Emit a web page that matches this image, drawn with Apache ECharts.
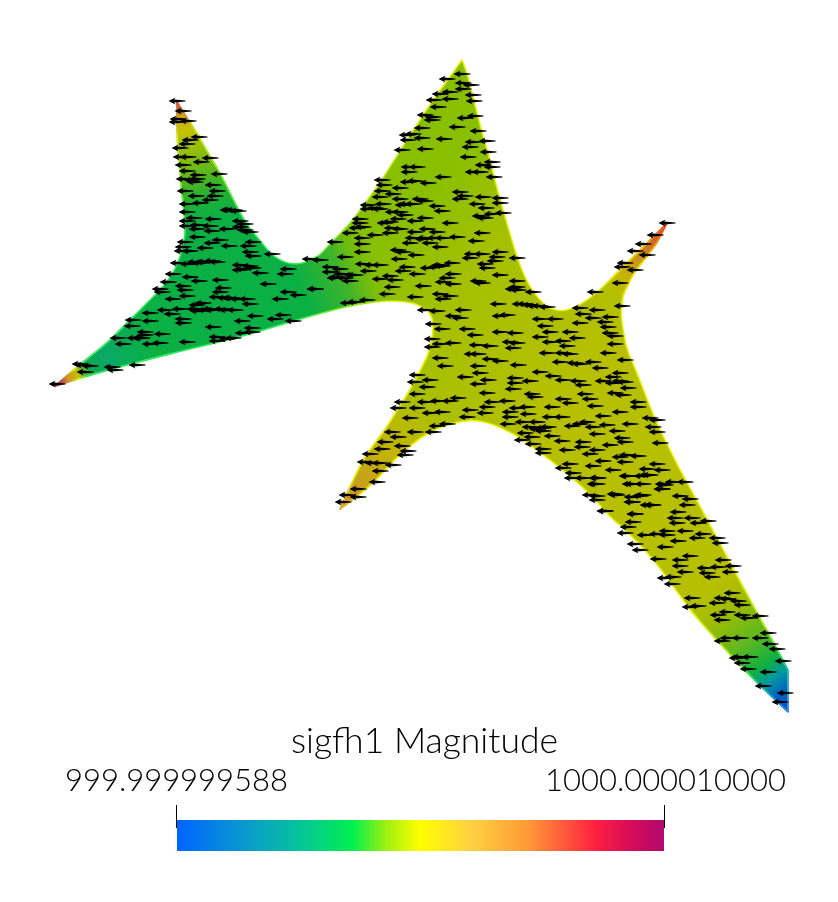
<!DOCTYPE html>
<html><head><meta charset="utf-8">
<style>html,body{margin:0;padding:0;background:#fff}#c{width:838px;height:902px}</style>
<script src="https://cdn.jsdelivr.net/npm/echarts@6/dist/echarts.min.js"></script>
</head><body><div id="c"></div>
<script>
const titleText = 'sigfh1 Magnitude';
const rangeLabels = ['999.999999588', '1000.000010000'];
const outline = [[55,386],[70,373],[83,362],[107,343],[120,330],[133,317],[146,304],[157,293],[166,283],[173,273],[179,260],[183,247],[185,235],[185,223],[184,212],[183,203],[181,185],[180,170],[178,150],[177,133],[177,102],
[187,118],[197,133],[208,153],[220,173],[230,193],[240,213],[248,226],[257,237],[270,253],[278,259],[287,263],[295,264],[303,263],[312,259],[320,255],[327,247],[340,234],[353,220],[366,202],[380,183],[393,162],[407,140],[420,120],[433,100],[447,81],[462,60],
[467,73],[472,93],[477,113],[483,136],[490,160],[496,185],[503,210],[510,234],[517,257],[523,273],[530,287],[538,298],[547,307],[555,310],[563,311],[573,308],[583,303],[595,294],[607,283],[617,273],[627,263],[638,252],[650,240],[667,223],
[657,243],[648,255],[640,265],[632,276],[627,287],[623,295],[622,303],[621,313],[622,323],[624,335],[627,350],[637,373],[650,407],[660,430],[670,450],[680,470],[702,510],[727,557],[750,600],[776,647],[788,670],[788,712],
[757,683],[723,647],[690,610],[657,563],[623,527],[613,520],[593,497],[578,483],[563,470],[550,460],[537,450],[523,440],[510,432],[490,423],[473,420],[457,422],[437,428],[417,440],[397,457],[385,470],[373,483],[355,498],[340,509],
[350,487],[363,460],[375,443],[387,427],[398,409],[410,390],[419,373],[427,357],[431,345],[433,333],[433,320],[430,314],[427,310],[420,306],[413,303],[400,301],[383,301],[367,303],[350,306],[333,310],[300,319],[270,328],[240,337],[173,353],[107,370]];
const tips = [[55,386],[177,102],[462,60],[667,223],[788,670],[788,712],[340,509]];
const leftStarEnds = [[400,301],[366,202]];
const armTopLeftEnds = [[185,235],[248,226]];
const tipLeftEnds = [[173,353],[133,317]];
const armRightEnds = [[607,283],[622,303]];
const armLowerEnds = [[473,420],[433,333]];
const armLowerRightEnds = [[727,557],[690,610]];
const colorBarStops = [[0,'#0064ff'],[0.13,'#0a96d2'],[0.25,'#05c39b'],[0.36,'#00f050'],[0.43,'#a0f010'],[0.5,'#ffff00'],[0.6,'#ffd240'],[0.72,'#ff9a38'],[0.86,'#ff2040'],[0.93,'#d80c58'],[1,'#b00a6e']];
const arrowsLeft = [[177,101],[183,111],[178,119],[188,121],[177,122],[199,137],[190,140],[187,144],[180,148],[188,157],[181,157],[210,158],[201,162],[183,165],[187,171],[219,174],[184,179],[197,179],[195,182],[213,185],[185,191],[217,191],[215,196],[196,196],[210,200],[200,203],[187,204],[187,212],[230,210],[238,211],[194,218],[213,219],[187,221],[240,221],[245,224],[187,226],[198,225],[210,226],[227,229],[240,227],[197,229],[212,231],[250,232],[197,237],[220,240],[212,243],[253,242],[248,246],[229,246],[185,242],[183,247],[205,248],[190,251],[182,251],[250,252],[253,256],[272,254],[217,262],[203,262],[178,263],[188,264],[240,265],[253,268],[243,269],[288,269],[285,274],[260,273],[173,274],[190,277],[168,282],[199,281],[220,280],[268,284],[183,286],[223,288],[160,289],[162,292],[185,290],[288,292],[298,295],[315,289],[220,292],[187,296],[173,299],[217,297],[230,298],[247,299],[280,299],[197,305],[250,304],[203,303],[180,309],[165,310],[210,309],[227,310],[235,310],[150,313],[172,314],[198,311],[255,316],[283,315],[275,319],[183,319],[133,320],[150,321],[242,321],[183,323],[132,326],[213,327],[252,328],[252,332],[145,332],[162,334],[140,338],[118,338],[217,337],[233,338],[243,333],[123,344],[150,344],[160,343],[187,342],[217,341],[227,339],[80,364],[90,366],[85,372],[112,367],[137,365],[115,370],[83,365],[57,384],[293,321]];
const arrowsPeak = [[462,74],[447,79],[463,83],[471,85],[463,89],[450,92],[440,94],[473,95],[450,99],[434,100],[474,101],[438,107],[425,115],[433,117],[432,120],[465,118],[475,116],[457,127],[478,131],[422,128],[413,134],[407,135],[422,138],[408,140],[444,139],[473,142],[487,141],[470,147],[402,150],[425,149],[488,152],[468,157],[492,162],[492,167],[483,165],[480,172],[473,172],[409,167],[417,167],[409,172],[443,177],[494,177],[382,180],[415,181],[428,183],[408,182],[400,188],[384,185],[382,191],[393,194],[460,192],[380,197],[400,199],[420,199],[425,201],[465,196],[460,199],[483,197],[500,198],[500,203],[383,204],[368,205],[403,205],[413,204],[437,206],[477,204],[486,208],[400,212],[442,211],[368,209],[380,209],[405,215],[492,214],[503,213],[480,216],[485,218],[425,218],[415,221],[398,219],[390,222],[360,219],[450,223],[360,223],[385,223],[363,227],[357,228],[392,228],[400,229],[427,229],[437,232],[390,233],[415,232],[350,233],[482,233],[375,235],[362,238],[413,238],[423,239],[443,238],[457,237],[476,241],[335,242],[410,243],[430,243],[362,244],[440,247],[398,250],[362,252],[416,255],[403,252],[482,254],[500,252],[472,254],[497,257],[345,257],[399,259],[310,259],[320,260],[517,258],[470,258],[363,264],[372,265],[380,265],[452,263],[495,261],[485,264],[407,267],[428,268],[442,266],[330,267],[340,269],[487,268],[330,272],[403,271],[368,271],[417,274],[342,274],[352,275],[390,276],[453,274],[500,275],[337,277],[380,279],[395,280],[447,278],[443,282],[517,281],[478,281],[350,281],[453,284],[482,283],[517,287],[513,289],[392,287],[423,286],[533,292],[595,292],[387,294],[440,294],[450,296],[415,297],[443,299],[367,300],[348,303],[355,302],[315,289],[620,283],[667,223],[655,235],[643,244],[635,251],[647,255],[625,263],[622,267],[635,270],[622,306],[520,304],[530,305],[547,307],[498,304],[463,310],[580,308],[597,310],[437,311],[425,310],[460,318],[453,316],[500,316],[507,315],[540,319],[555,319],[583,314],[593,318],[610,317],[580,323],[605,322],[545,326],[433,324],[442,329],[467,329],[608,327],[550,332],[570,332],[500,332],[515,333],[610,333],[577,338],[475,335],[540,337],[432,339],[615,336],[550,342],[563,341],[615,344],[510,342],[440,344],[453,343],[477,345],[490,346],[517,343],[567,346],[513,348],[432,347]];
const arrowsLower = [[547,353],[563,353],[570,354],[478,354],[472,354],[440,358],[560,362],[593,362],[490,359],[500,361],[625,360],[608,353],[445,366],[518,365],[478,366],[600,368],[540,372],[620,373],[417,375],[480,373],[613,377],[465,377],[430,380],[415,382],[553,376],[515,378],[488,380],[563,380],[578,381],[603,381],[613,383],[583,385],[427,387],[478,384],[515,383],[530,381],[628,388],[417,394],[487,393],[513,389],[532,394],[585,394],[615,393],[535,397],[623,395],[563,399],[590,399],[458,398],[402,402],[425,402],[438,401],[450,401],[507,401],[638,402],[570,403],[492,402],[638,407],[595,406],[398,408],[417,408],[487,407],[527,407],[552,407],[517,408],[470,410],[430,413],[442,412],[485,413],[528,414],[510,412],[467,417],[510,417],[550,417],[562,417],[410,418],[603,416],[620,412],[650,418],[587,422],[537,422],[523,422],[657,420],[508,424],[580,424],[607,425],[630,424],[437,426],[447,424],[530,427],[543,428],[593,427],[653,427],[415,432],[433,432],[392,432],[543,431],[617,431],[597,434],[525,433],[532,437],[657,432],[552,436],[398,437],[622,438],[625,442],[385,442],[562,441],[583,442],[522,440],[660,443],[533,444],[582,447],[610,445],[402,446],[382,449],[543,449],[567,450],[597,450],[408,451],[370,454],[405,455],[543,453],[590,454],[627,455],[638,456],[620,457],[365,462],[373,463],[380,463],[393,465],[603,461],[625,462],[657,464],[570,464],[593,466],[380,471],[613,470],[647,469],[563,468],[662,470],[627,476],[647,475],[573,473],[598,478],[583,478],[572,478],[377,482],[597,484],[630,484],[643,484],[663,484],[358,489],[662,489],[347,495],[358,497],[590,495],[617,495],[640,496],[343,502],[597,500],[632,502],[652,505],[605,511],[635,514]];
const arrowsRight = [[685,482],[673,482],[597,478],[628,476],[650,475],[642,476],[665,485],[633,484],[595,484],[662,489],[680,496],[690,499],[597,496],[615,494],[632,497],[643,495],[687,505],[632,502],[653,505],[648,505],[678,512],[635,514],[605,511],[675,518],[692,518],[633,522],[677,523],[708,521],[698,523],[628,527],[667,531],[685,531],[625,533],[645,535],[657,534],[667,535],[703,534],[697,538],[717,538],[678,541],[635,544],[720,543],[665,547],[640,550],[690,556],[658,559],[680,560],[723,560],[680,566],[733,566],[705,568],[718,567],[685,572],[730,572],[707,573],[712,577],[673,577],[665,578],[672,584],[692,598],[732,593],[722,598],[728,599],[738,601],[717,603],[698,606],[690,607],[742,605],[727,612],[718,615],[722,620],[742,615],[760,616],[748,618],[768,633],[760,638],[728,638],[740,638],[722,641],[770,644],[777,649],[740,657],[750,657],[737,658],[742,663],[748,669],[768,672],[783,661],[763,686],[785,693],[780,702]];
const arrowsDense = [[205,262],[212,261],[195,262],[200,263],[240,270],[250,266],[232,298],[238,299],[225,298],[213,310],[205,310],[222,309],[195,309],[135,338],[145,335],[142,338],[245,230],[228,210],[234,210],[198,175],[192,180],[440,265],[436,267],[518,290],[525,304],[535,306],[540,306],[335,278],[345,278],[355,275],[407,204],[393,212],[375,208],[425,238],[435,238],[575,363],[580,364],[572,426],[620,381],[625,382],[548,427],[537,429]];

const same=(a,b)=>a[0]===b[0]&&a[1]===b[1];
const isFixed=p=>tips.some(t=>same(t,p));
function slice(ends){
  const n=outline.length; let i=outline.findIndex(p=>same(p,ends[0])); const r=[];
  while(true){ r.push(outline[i]); if(same(outline[i],ends[1])) break; i=(i+1)%n; }
  return r;
}
function chaikin(pts,closed){
  let cur=pts;
  for(let k=0;k<3;k++){
    const o=[],n=cur.length;
    for(let i=0;i<n;i++){
      const p=cur[i];
      if(isFixed(p)||(!closed&&(i===0||i===n-1))){o.push(p);continue;}
      const a=cur[(i-1+n)%n],b=cur[(i+1)%n];
      o.push([p[0]*.75+a[0]*.25,p[1]*.75+a[1]*.25]);
      o.push([p[0]*.75+b[0]*.25,p[1]*.75+b[1]*.25]);
    }
    cur=o;
  }
  return cur;
}
const G = echarts.graphic.LinearGradient;
function layer(type,points,style){
  return { type:'custom', coordinateSystem:'cartesian2d', silent:true, animation:false, clip:false, data:[[0,0]],
    renderItem:(p,api)=>({ type, shape:{points:points.map(q=>api.coord(q))}, style:style(api) }) };
}
function grad(a,b,stops){
  return api=>{ const A=api.coord(a),B=api.coord(b);
    return new G(A[0],A[1],B[0],B[1],stops.map(s=>({offset:s[0],color:s[1]})),true); };
}
const fillLayer=(pts,g)=>layer('polygon',pts,api=>({fill:g(api),stroke:null}));
const edgeLayer=(pts,g,w)=>layer('polyline',pts,api=>({fill:null,stroke:g(api),lineWidth:w||1.5,lineJoin:'round'}));
const full=chaikin(outline,true);
const leftStar=chaikin(slice(leftStarEnds),false);
const topArm=chaikin(slice(armTopLeftEnds),false);
const tipArm=chaikin(slice(tipLeftEnds),false);
const rightArm=chaikin(slice(armRightEnds),false);
const lowerArm=chaikin(slice(armLowerEnds),false);
const lrArm=chaikin(slice(armLowerRightEnds),false);
const series = [
  fillLayer(full, grad([380,250],[570,400],[[0,'#88c000'],[0.35,'#a4c000'],[1,'#b6c000']])),
  fillLayer(leftStar, grad([305,300],[395,258],[[0,'#0ab044'],[0.45,'#40b42a'],[0.9,'rgba(136,192,0,0)']])),
  fillLayer(topArm, grad([216,228],[178,103],[[0,'rgba(13,176,74,0)'],[0.3,'rgba(48,178,44,1)'],[0.55,'#80bc10'],[0.78,'#c4c400'],[0.9,'#d0a020'],[1,'#e02040']])),
  fillLayer(tipArm, grad([150,345],[57,385],[[0,'rgba(10,168,104,0)'],[0.45,'#0aa868'],[0.645,'#10a850'],[0.77,'#c0c000'],[0.88,'#e09020'],[0.95,'#e02040'],[1,'#b01070']])),
  fillLayer(rightArm, grad([610,300],[667,223],[[0,'rgba(190,192,0,0)'],[0.25,'#c4b800'],[0.55,'#cc9020'],[0.8,'#d06030'],[1,'#e01040']])),
  fillLayer(lowerArm, grad([430,400],[340,509],[[0,'rgba(192,184,0,0)'],[0.4,'#c0b800'],[0.8,'#c8a020'],[1,'#e09030']])),
  fillLayer(lrArm, grad([710,590],[790,700],[[0,'rgba(160,188,0,0)'],[0.2,'#a0bc00'],[0.47,'#60b820'],[0.68,'#10b040'],[0.8,'#0098a0'],[0.93,'#0060c8'],[1,'#0058d0']])),
  edgeLayer(full.concat([full[0]]), grad([290,300],[420,300],[[0,'#34e85c'],[0.5,'#a0e818'],[1,'#e6f000']])),
  edgeLayer(topArm, grad([216,228],[178,103],[[0,'#34e85c'],[0.45,'#a0e818'],[0.75,'#f0f000'],[1,'#f04040']])),
  edgeLayer(tipArm, grad([150,345],[57,385],[[0,'#34e85c'],[0.7,'#40e860'],[0.78,'#f0f000'],[1,'#c01070']])),
  edgeLayer(rightArm, grad([610,300],[667,223],[[0,'#e6f000'],[0.6,'#f0d000'],[1,'#f03030']])),
  edgeLayer(lowerArm, grad([430,400],[340,509],[[0,'#e6f000'],[0.8,'#f0e000'],[1,'#ff9a38']])),
  edgeLayer(lrArm, grad([710,590],[790,700],[[0,'#e6f000'],[0.47,'#a0e818'],[0.68,'#20e860'],[0.8,'#00c0c0'],[1,'#1080ff']])),
  { type:'scatter', silent:true, animation:false, clip:false,
    data:[...arrowsLeft,...arrowsPeak,...arrowsLower,...arrowsRight,...arrowsDense],
    symbol:'path://M0 3L6.6 .3L5.4 1.9L16 2.65L16 3.35L5.4 4.1L6.6 5.7Z', symbolSize:[17,7], symbolKeepAspect:false,
    itemStyle:{color:'#000',opacity:1}, z:5 },
  { type:'custom', coordinateSystem:'cartesian2d', silent:true, animation:false, clip:false, z:6, data:[[0,0]],
    renderItem:(p,api)=>{
      const a=api.coord([177,820]), b=api.coord([664,851]);
      const t0=api.coord([176.5,805]), t1=api.coord([176.5,828]), t2=api.coord([664.5,805]), t3=api.coord([664.5,828]);
      return { type:'group', children:[
        { type:'rect', shape:{x:a[0],y:a[1],width:b[0]-a[0],height:b[1]-a[1]},
          style:{fill:new G(a[0],0,b[0],0,colorBarStops.map(s=>({offset:s[0],color:s[1]})),true)} },
        { type:'line', shape:{x1:t0[0],y1:t0[1],x2:t1[0],y2:t1[1]}, style:{stroke:'#000',lineWidth:1} },
        { type:'line', shape:{x1:t2[0],y1:t2[1],x2:t3[0],y2:t3[1]}, style:{stroke:'#000',lineWidth:1} },
      ]};
    }},
];
const chart = echarts.init(document.getElementById('c'), null, {renderer:'canvas', width:838, height:902});
const font = {fontFamily:'Lato', fontWeight:300, fill:'#000'};
chart.setOption({
  backgroundColor:'#fff', animation:false,
  grid:{left:0,right:0,top:0,bottom:0},
  xAxis:{type:'value',min:0,max:838,show:false},
  yAxis:{type:'value',min:0,max:902,inverse:true,show:false},
  series,
  graphic:[
    {type:'text',left:291,top:724,style:{...font,fontSize:35.5,text:titleText}},
    {type:'text',left:65,top:765,style:{...font,fontSize:31,text:rangeLabels[0]}},
    {type:'text',left:545,top:765,style:{...font,fontSize:31,text:rangeLabels[1]}},
  ],
});
</script></body></html>
